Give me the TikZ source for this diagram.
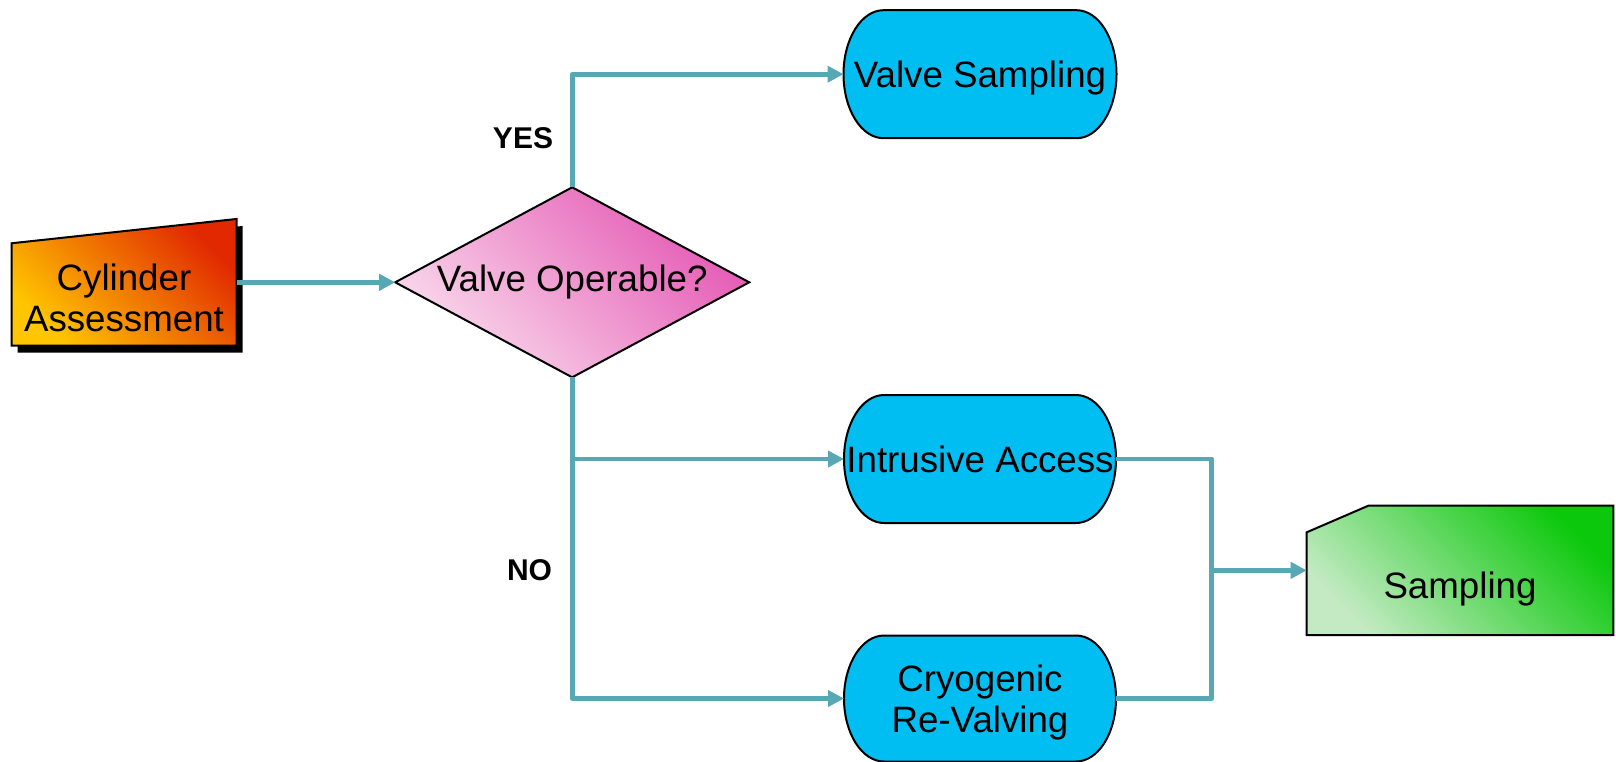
\documentclass[tikz,border=0pt]{standalone}
\usepackage{fontspec}
\setmainfont{Liberation Sans}
\usetikzlibrary{shapes.geometric,arrows.meta,calc,backgrounds}
\definecolor{conncol}{RGB}{87,168,180}
\definecolor{cyanfill}{RGB}{0,190,242}
\definecolor{pinkdark}{RGB}{228,88,180}
\definecolor{pinklight}{RGB}{250,218,236}
\definecolor{orgdark}{RGB}{225,40,0}
\definecolor{orglight}{RGB}{255,198,0}
\definecolor{grndark}{RGB}{12,200,12}
\definecolor{grnlight}{RGB}{196,234,196}
\newcommand\stadshape[2]{%
  \draw[outline, fill=cyanfill] ($(#1.north west)+(20pt,0)$) -- ($(#1.north east)+(-20pt,0)$)
    arc[start angle=90,end angle=-90,x radius=20pt,y radius=#2]
    -- ($(#1.south west)+(20pt,0)$)
    arc[start angle=270,end angle=90,x radius=20pt,y radius=#2] -- cycle;}
\begin{document}
\begin{tikzpicture}[x=0.5pt,y=-0.5pt,
  txt/.style={font=\fontsize{18.35pt}{20.5pt}\selectfont, align=center, inner sep=0pt},
  frame/.style={draw=none, inner sep=0pt, outer sep=0pt, rectangle},
  conn/.style={draw=conncol, line width=2.4pt, line join=round},
  arr/.style={conn, -{Triangle[length=8pt,width=8pt]}},
  lbl/.style={font=\fontsize{15pt}{18pt}\selectfont\bfseries, inner sep=0pt},
  outline/.style={draw=black, line width=1pt, line join=miter},
]
\useasboundingbox (0,0) rectangle (1616,761);

% nodes
\node[frame, minimum width=112.5pt, minimum height=63.35pt] (cyl) at (124.2,282.3) {};
\node[txt] (cyltxt) at (124,298) {Cylinder\\Assessment};
\node[diamond, draw=black, line width=1pt, aspect=1.863, minimum width=177pt, minimum height=95pt,
      inner sep=0pt, outer sep=0pt, top color=pinkdark, bottom color=pinklight, shading angle=-45, txt]
      (dia) at (572.2,282.3) {Valve Operable?};
\node[frame, minimum width=136.5pt, minimum height=64pt, txt, text depth=0pt] (vs) at (980,74.2) {Valve Sampling};
\node[frame, minimum width=136pt, minimum height=64pt, txt, text depth=0pt] (ia) at (980,459) {Intrusive Access};
\node[frame, minimum width=136pt, minimum height=63pt, txt, text depth=0pt] (cr) at (980,698.5) {Cryogenic\\Re-Valving};
\node[frame, minimum width=153.3pt, minimum height=64.65pt] (samp) at (1460,570.35) {};
\node[txt] (samptxt) at (1460,589) {Sampling};
\node[lbl] (yes) at (523,138) {YES};
\node[lbl] (no) at (529.5,570) {NO};

% shapes behind the texts
\begin{scope}[on background layer]
  \fill[black] ($(cyl.south west)+(3pt,-3.5pt)$) -- ($(cyl.south east)+(3pt,-3.5pt)$)
     -- ($(cyl.north east)+(3pt,-3.5pt)$) -- ($(cyl.north west)+(3pt,-15.65pt)$) -- cycle;
  \draw[outline, top color=orgdark, bottom color=orglight, shading angle=-45]
     (cyl.south west) -- (cyl.south east) -- (cyl.north east) -- ($(cyl.north west)+(0,-12.15pt)$) -- cycle;
  \stadshape{vs}{32pt}
  \stadshape{ia}{32pt}
  \stadshape{cr}{31.5pt}
  \draw[outline, top color=grndark, bottom color=grnlight, shading angle=-45]
     (samp.south west) -- (samp.south east) -- (samp.north east)
     -- ($(samp.north west)+(30.8pt,0)$) -- ($(samp.north west)+(0,-13.3pt)$) -- cycle;
\end{scope}

% connectors
\coordinate (b) at (dia.south |- ia.west);
\coordinate (j) at ($(samp.west)+(-47.5pt,0)$);
\draw[arr] (cyl.east) -- (cyl.east -| dia.west);
\draw[arr] (dia.north) |- (vs.west);
\draw[arr] (dia.south) |- (cr.west);
\draw[arr] (b) -- (ia.west);
\draw[conn] (ia.east) -| (j) |- (cr.east);
\draw[arr] (j) -- (samp.west);
\end{tikzpicture}
\end{document}
